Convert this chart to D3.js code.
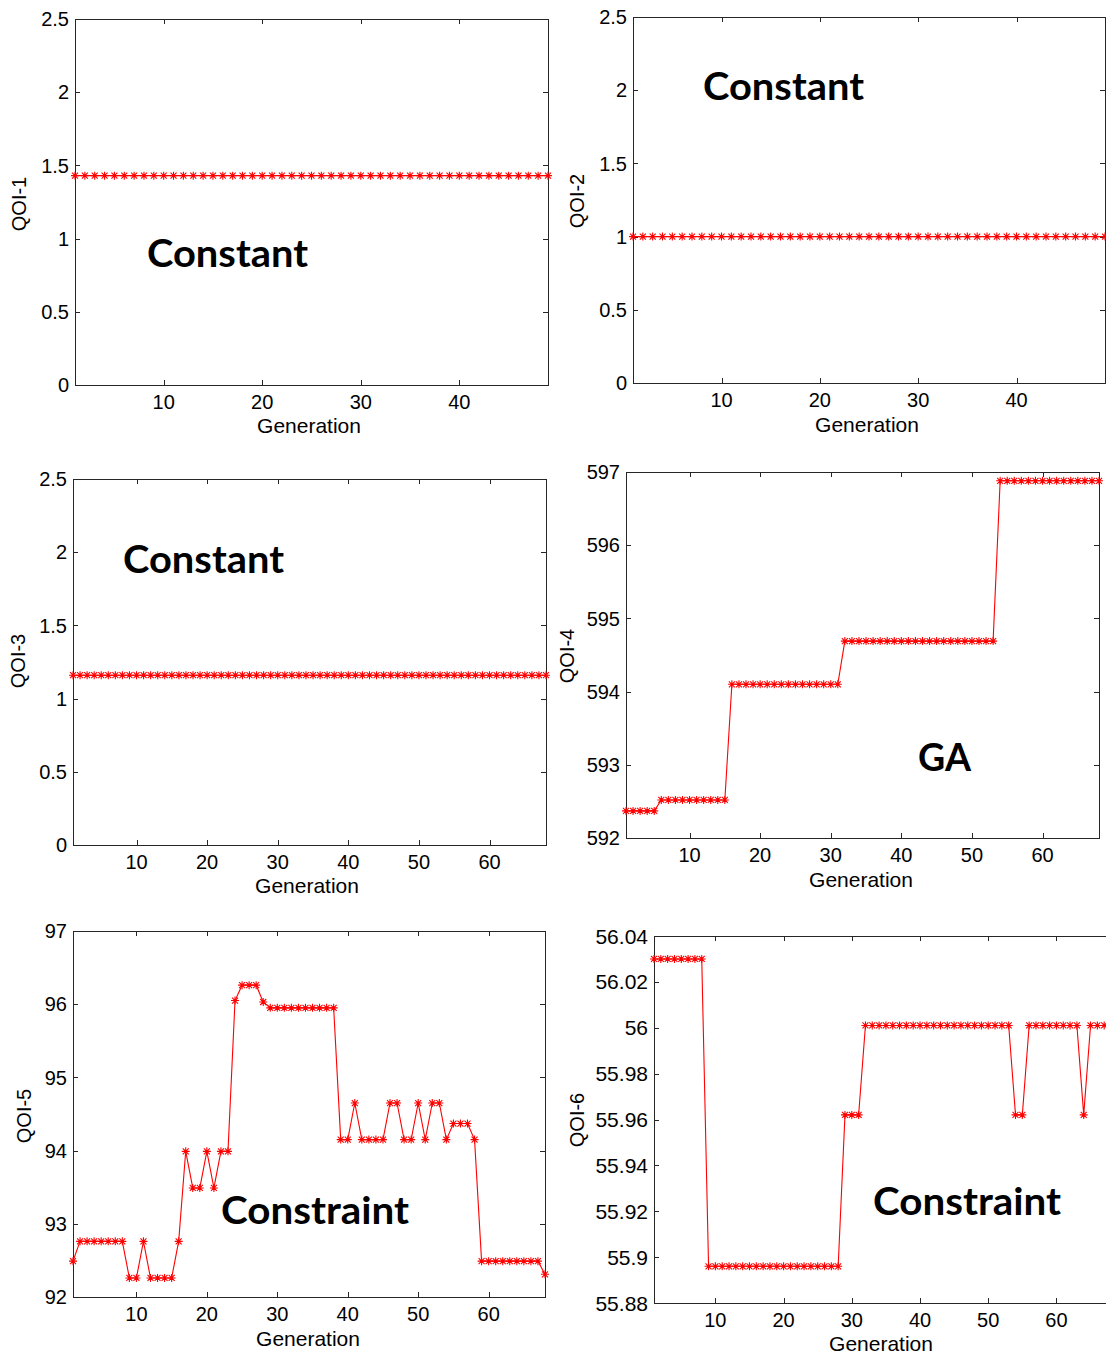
<!DOCTYPE html>
<html><head><meta charset="utf-8">
<script src="https://cdn.jsdelivr.net/npm/d3@7"></script>
<style>body{margin:0;background:#fff}svg{display:block}</style>
</head><body>
<svg id="c" width="1106" height="1357"></svg>
<script>
// ---------- DATA ----------
const qoi1 = [1.43,1.43,1.43,1.43,1.43,1.43,1.43,1.43,1.43,1.43,1.43,1.43,1.43,1.43,1.43,1.43,1.43,1.43,1.43,1.43,1.43,1.43,1.43,1.43,1.43,1.43,1.43,1.43,1.43,1.43,1.43,1.43,1.43,1.43,1.43,1.43,1.43,1.43,1.43,1.43,1.43,1.43,1.43,1.43,1.43,1.43,1.43,1.43,1.43];
const qoi2 = [1,1,1,1,1,1,1,1,1,1,1,1,1,1,1,1,1,1,1,1,1,1,1,1,1,1,1,1,1,1,1,1,1,1,1,1,1,1,1,1,1,1,1,1,1,1,1,1,1];
const qoi3 = [1.16,1.16,1.16,1.16,1.16,1.16,1.16,1.16,1.16,1.16,1.16,1.16,1.16,1.16,1.16,1.16,1.16,1.16,1.16,1.16,1.16,1.16,1.16,1.16,1.16,1.16,1.16,1.16,1.16,1.16,1.16,1.16,1.16,1.16,1.16,1.16,1.16,1.16,1.16,1.16,1.16,1.16,1.16,1.16,1.16,1.16,1.16,1.16,1.16,1.16,1.16,1.16,1.16,1.16,1.16,1.16,1.16,1.16,1.16,1.16,1.16,1.16,1.16,1.16,1.16,1.16,1.16,1.16];
const qoi4 = [592.37,592.37,592.37,592.37,592.37,
  592.52,592.52,592.52,592.52,592.52,592.52,592.52,592.52,592.52,592.52,
  594.10,594.10,594.10,594.10,594.10,594.10,594.10,594.10,594.10,594.10,594.10,594.10,594.10,594.10,594.10,594.10,
  594.69,594.69,594.69,594.69,594.69,594.69,594.69,594.69,594.69,594.69,594.69,594.69,594.69,594.69,594.69,594.69,594.69,594.69,594.69,594.69,594.69,594.69,
  596.88,596.88,596.88,596.88,596.88,596.88,596.88,596.88,596.88,596.88,596.88,596.88,596.88,596.88,596.88];
const qoi5 = [92.49,
  92.76,92.76,92.76,92.76,92.76,92.76,92.76,
  92.26,92.26,92.76,92.26,92.26,92.26,92.26,92.76,
  93.99,93.49,93.49,93.99,93.49,93.99,93.99,
  96.05,96.26,96.26,96.26,96.03,
  95.95,95.95,95.95,95.95,95.95,95.95,95.95,95.95,95.95,95.95,
  94.15,94.15,94.65,94.15,94.15,94.15,94.15,94.65,94.65,94.15,94.15,94.65,94.15,94.65,94.65,94.15,
  94.37,94.37,94.37,94.15,
  92.49,92.49,92.49,92.49,92.49,92.49,92.49,92.49,92.49,
  92.31];
const qoi6 = [56.03,56.03,56.03,56.03,56.03,56.03,56.03,56.03,
  55.896,55.896,55.896,55.896,55.896,55.896,55.896,55.896,55.896,55.896,55.896,55.896,55.896,55.896,55.896,55.896,55.896,55.896,55.896,55.896,
  55.962,55.962,55.962,
  56.001,56.001,56.001,56.001,56.001,56.001,56.001,56.001,56.001,56.001,56.001,56.001,56.001,56.001,56.001,56.001,56.001,56.001,56.001,56.001,56.001,56.001,
  55.962,55.962,
  56.001,56.001,56.001,56.001,56.001,56.001,56.001,56.001,
  55.962,
  56.001,56.001,56.001,56.001];

const xTicks49 = [10,20,30,40];
const xTicks68 = [10,20,30,40,50,60];
const yTicksA = [0,0.5,1,1.5,2,2.5];
const yLabelsA = ["0","0.5","1","1.5","2","2.5"];
const yTicks4 = [592,593,594,595,596,597];
const yLabels4 = ["592","593","594","595","596","597"];
const yTicks5 = [92,93,94,95,96,97];
const yLabels5 = ["92","93","94","95","96","97"];
const yTicks6 = [55.88,55.9,55.92,55.94,55.96,55.98,56,56.02,56.04];
const yLabels6 = ["55.88","55.9","55.92","55.94","55.96","55.98","56","56.02","56.04"];
const yTitles = ["QOI-1","QOI-2","QOI-3","QOI-4","QOI-5","QOI-6"];
const xTitle = "Generation";
const notes = ["Constant","Constant","Constant","GA","Constraint","Constraint"];

// ---------- LAYOUT ----------
const panels = [
  {data:qoi1, xMax:49, xTicks:xTicks49, yDom:[0,2.5], yTicks:yTicksA, yLabels:yLabelsA,
   box:{l:75,r:548,t:19,b:385}, yt:[19,204], xt:[309,433], note:[147,267,161]},
  {data:qoi2, xMax:49, xTicks:xTicks49, yDom:[0,2.5], yTicks:yTicksA, yLabels:yLabelsA,
   box:{l:633,r:1105,t:17,b:383}, yt:[577,201], xt:[867,432], note:[703,100,161]},
  {data:qoi3, xMax:68, xTicks:xTicks68, yDom:[0,2.5], yTicks:yTicksA, yLabels:yLabelsA,
   box:{l:73,r:546,t:479,b:845}, yt:[18,661], xt:[307,893], note:[123,573,161]},
  {data:qoi4, xMax:68, xTicks:xTicks68, yDom:[592,597], yTicks:yTicks4, yLabels:yLabels4,
   box:{l:626,r:1099,t:472,b:838}, yt:[567,656], xt:[861,887], note:[918,771,53]},
  {data:qoi5, xMax:68, xTicks:xTicks68, yDom:[92,97], yTicks:yTicks5, yLabels:yLabels5,
   box:{l:73,r:545,t:931,b:1297}, yt:[24,1116], xt:[308,1346], note:[221,1224,188]},
  {data:qoi6, xMax:68, xTicks:xTicks68, yDom:[55.88,56.04], yTicks:yTicks6, yLabels:yLabels6,
   box:{l:654,r:1111,t:936,b:1303}, yt:[577,1120], xt:[881,1351], note:[873,1215,188]}
];

const svg = d3.select("#c");
const FONT = "'Liberation Sans', Arial, sans-serif";
const axisCol = "#262626";
const star = "M-4,0H4M0,-4V4M-3,-3L3,3M-3,3L3,-3";

panels.forEach((p, i) => {
  const {l, r, t, b} = p.box;
  const x = d3.scaleLinear().domain([1, p.xMax]).range([l, r]);
  const y = d3.scaleLinear().domain(p.yDom).range([b, t]);
  const g = svg.append("g");

  // box
  g.append("rect").attr("x", l + 0.5).attr("y", t + 0.5)
    .attr("width", r - l).attr("height", b - t)
    .attr("fill", "none").attr("stroke", axisCol).attr("stroke-width", 1);

  // x ticks (inward, top and bottom)
  p.xTicks.forEach(v => {
    const xx = Math.round(x(v)) + 0.5;
    g.append("line").attr("x1", xx).attr("x2", xx).attr("y1", b).attr("y2", b - 5).attr("stroke", axisCol);
    g.append("line").attr("x1", xx).attr("x2", xx).attr("y1", t).attr("y2", t + 5).attr("stroke", axisCol);
    g.append("text").attr("x", x(v)).attr("y", b + 24).attr("text-anchor", "middle")
      .attr("font-family", FONT).attr("font-size", 20).attr("fill", "#000").text(v);
  });
  // y ticks
  p.yTicks.forEach((v, k) => {
    const yy = Math.round(y(v)) + 0.5;
    g.append("line").attr("x1", l).attr("x2", l + 5).attr("y1", yy).attr("y2", yy).attr("stroke", axisCol);
    g.append("line").attr("x1", r).attr("x2", r - 5).attr("y1", yy).attr("y2", yy).attr("stroke", axisCol);
    g.append("text").attr("x", l - 6).attr("y", y(v)).attr("dy", "0.36em").attr("text-anchor", "end")
      .attr("font-family", FONT).attr("font-size", i === 5 ? 21 : 20).attr("fill", "#000").text(p.yLabels[k]);
  });

  // titles
  g.append("text").attr("transform", `translate(${p.yt[0]},${p.yt[1]}) rotate(-90)`)
    .attr("dy", "0.36em").attr("text-anchor", "middle")
    .attr("font-family", FONT).attr("font-size", 20).attr("fill", "#000").text(yTitles[i]);
  g.append("text").attr("x", p.xt[0]).attr("y", p.xt[1]).attr("text-anchor", "middle")
    .attr("font-family", FONT).attr("font-size", 21).attr("fill", "#000").text(xTitle);

  // line
  const line = d3.line().x((d, k) => x(k + 1)).y(d => y(d));
  g.append("path").datum(p.data).attr("d", line)
    .attr("fill", "none").attr("stroke", "#ff0000").attr("stroke-width", 1.1);
  // markers
  g.selectAll("path.m").data(p.data).join("path").attr("class", "m")
    .attr("transform", (d, k) => `translate(${x(k + 1)},${y(d)})`)
    .attr("d", star).attr("fill", "none").attr("stroke", "#ff0000").attr("stroke-width", 1.1);

  // annotation
  g.append("text").attr("x", p.note[0]).attr("y", p.note[1])
    .attr("font-family", "Lato, 'Open Sans', sans-serif").attr("font-weight", 700)
    .attr("font-size", 38).attr("fill", "#000")
    .attr("textLength", p.note[2]).attr("lengthAdjust", "spacingAndGlyphs")
    .text(notes[i]);
});
</script>
</body></html>
